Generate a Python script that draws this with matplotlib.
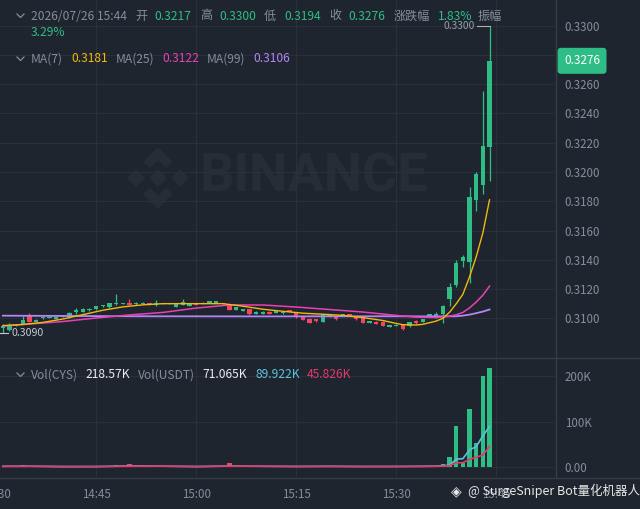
import matplotlib
matplotlib.use('Agg')
import matplotlib.pyplot as plt
import matplotlib.transforms as mtransforms
from matplotlib.lines import Line2D
from matplotlib.patches import Polygon
import numpy as np

plt.rcParams['font.family'] = ['Noto Sans CJK SC', 'DejaVu Sans']

# candles, one per minute, x = minutes after 14:30 (14:31 ... 15:44)
minutes = list(range(1, 75))
opens = [0.30935, 0.30922, 0.30950, 0.30961, 0.31025, 0.30975, 0.31002, 0.31005, 0.30996, 0.31012,
         0.31008, 0.31040, 0.31043, 0.31054, 0.31062, 0.31084, 0.31074, 0.31096, 0.31098, 0.31105,
         0.31096, 0.31098, 0.31105, 0.31089, 0.31100, 0.31100, 0.31080, 0.31091, 0.31084, 0.31103,
         0.31100, 0.31107, 0.31108, 0.31104, 0.31091, 0.31057, 0.31050, 0.31064, 0.31031, 0.31031,
         0.31045, 0.31038, 0.31034, 0.31057, 0.31043, 0.31016, 0.30995, 0.30995, 0.30978, 0.31011,
         0.31009, 0.31016, 0.31027, 0.31009, 0.31005, 0.30968, 0.30977, 0.30977, 0.30943, 0.30950,
         0.30959, 0.30947, 0.30984, 0.30977, 0.31009, 0.31013, 0.31029, 0.31132, 0.31228, 0.31392,
         0.31387, 0.31809, 0.31911, 0.32170]
highs = [0.30960, 0.30968, 0.30960, 0.31016, 0.31036, 0.30993, 0.31012, 0.31015, 0.31012, 0.31020,
         0.31040, 0.31068, 0.31068, 0.31070, 0.31086, 0.31092, 0.31108, 0.31164, 0.31108, 0.31130,
         0.31110, 0.31109, 0.31108, 0.31125, 0.31108, 0.31107, 0.31099, 0.31132, 0.31098, 0.31106,
         0.31112, 0.31120, 0.31119, 0.31107, 0.31094, 0.31078, 0.31066, 0.31066, 0.31047, 0.31047,
         0.31048, 0.31052, 0.31047, 0.31059, 0.31045, 0.31018, 0.31005, 0.30998, 0.31029, 0.31030,
         0.31014, 0.31029, 0.31030, 0.31011, 0.31007, 0.30981, 0.30979, 0.30979, 0.30956, 0.30958,
         0.30962, 0.30975, 0.30986, 0.30995, 0.31029, 0.31041, 0.31093, 0.31243, 0.31399, 0.31433,
         0.31895, 0.32002, 0.32556, 0.33000]
lows = [0.30900, 0.30915, 0.30945, 0.30958, 0.30975, 0.30972, 0.30998, 0.31002, 0.30993, 0.31008,
        0.31005, 0.31029, 0.31040, 0.31050, 0.31060, 0.31080, 0.31072, 0.31094, 0.31095, 0.31088,
        0.31094, 0.31096, 0.31090, 0.31086, 0.31098, 0.31097, 0.31078, 0.31089, 0.31082, 0.31088,
        0.31098, 0.31105, 0.31106, 0.31096, 0.31054, 0.31055, 0.31048, 0.31026, 0.31029, 0.31029,
        0.31027, 0.31036, 0.31032, 0.31041, 0.31005, 0.30986, 0.30968, 0.30978, 0.30976, 0.31009,
        0.30990, 0.31014, 0.31014, 0.30991, 0.30968, 0.30966, 0.30959, 0.30945, 0.30941, 0.30948,
        0.30920, 0.30943, 0.30964, 0.30975, 0.31007, 0.31005, 0.30966, 0.31086, 0.31212, 0.31353,
        0.31243, 0.31736, 0.31848, 0.31940]
closes = [0.30950, 0.30952, 0.30956, 0.30991, 0.30978, 0.30990, 0.31009, 0.31012, 0.31010, 0.31016,
          0.31037, 0.31057, 0.31064, 0.31066, 0.31084, 0.31088, 0.31105, 0.31106, 0.31104, 0.31091,
          0.31107, 0.31106, 0.31093, 0.31105, 0.31106, 0.31104, 0.31096, 0.31109, 0.31096, 0.31091,
          0.31107, 0.31118, 0.31117, 0.31098, 0.31057, 0.31075, 0.31064, 0.31029, 0.31045, 0.31045,
          0.31029, 0.31050, 0.31045, 0.31043, 0.31016, 0.30988, 0.30970, 0.30980, 0.31027, 0.31027,
          0.30995, 0.31027, 0.31016, 0.30993, 0.30970, 0.30979, 0.30961, 0.30947, 0.30954, 0.30953,
          0.30927, 0.30973, 0.30966, 0.30993, 0.31027, 0.31029, 0.31086, 0.31216, 0.31376, 0.31421,
          0.31827, 0.31986, 0.32178, 0.32760]
# volume in thousands of CYS
volumes_k = [1.5, 2.0, 1.2, 4.5, 3.0, 1.5, 1.0, 0.8, 1.2, 0.8,
             1.8, 2.2, 1.5, 1.0, 2.0, 0.8, 2.5, 4.5, 1.2, 6.5,
             1.5, 1.0, 1.2, 2.0, 0.8, 0.8, 1.5, 2.5, 1.0, 1.5,
             1.0, 1.8, 1.2, 1.0, 8.5, 2.5, 1.5, 3.0, 1.2, 1.0,
             1.5, 1.0, 1.2, 1.5, 2.5, 2.0, 2.2, 1.2, 3.0, 1.5,
             1.2, 1.0, 1.2, 1.5, 2.5, 1.2, 1.5, 2.5, 1.2, 0.5,
             3.0, 2.5, 1.5, 2.0, 3.5, 3.0, 6.6, 22.0, 91.0, 8.8,
             128.7, 54.3, 201.5, 218.57]

# moving average lines
ma7_t = [1, 4, 7, 10, 13, 16, 19, 22, 25, 28, 31, 34, 37, 40, 43, 46, 49, 52, 55, 58,
         60, 61, 62, 63, 64, 65, 66, 67, 68, 69, 70, 71, 72, 73, 74]
ma7 = [0.30950, 0.30958, 0.30972, 0.30995, 0.31025, 0.31055, 0.31078, 0.31092, 0.31100, 0.31100,
       0.31100, 0.31100, 0.31083, 0.31062, 0.31048, 0.31035, 0.31028, 0.31020, 0.31005, 0.30985,
       0.30965, 0.30956, 0.30956, 0.30954, 0.30959, 0.30970, 0.30981, 0.31000, 0.31041, 0.31099,
       0.31164, 0.31283, 0.31420, 0.31584, 0.31810]
ma25_t = [1, 5, 10, 15, 20, 25, 30, 35, 40, 45, 50, 55, 60, 63, 66, 68, 69, 70, 71, 72, 73, 74]
ma25 = [0.30947, 0.30961, 0.30978, 0.31002, 0.31023, 0.31040, 0.31070, 0.31091, 0.31091, 0.31077,
        0.31060, 0.31043, 0.31020, 0.31008, 0.31005, 0.31015, 0.31024, 0.31040, 0.31071, 0.31111,
        0.31158, 0.31220]
ma99_t = [1, 20, 40, 60, 66, 69, 70, 71, 72, 73, 74]
ma99 = [0.31018, 0.31014, 0.31013, 0.31014, 0.31013, 0.31014, 0.31018, 0.31025, 0.31035, 0.31046, 0.31060]

vma_t = [1, 5, 10, 15, 20, 25, 30, 35, 40, 45, 50, 55, 60, 64, 66, 67, 68, 69, 70, 71, 72, 73, 74]
vma5 = [2.2, 2.4, 1.4, 1.6, 3.0, 2.5, 1.5, 2.8, 2.2, 1.8, 2.2, 1.7, 1.8, 2.2, 2.6, 3.5, 4.5,
        17.7, 19.0, 38.0, 45.5, 69.0, 89.922]
vma10 = [2.2, 2.3, 1.9, 1.6, 2.4, 2.5, 2.0, 2.5, 2.5, 2.0, 2.0, 1.8, 1.8, 2.0, 2.2, 2.6, 3.4,
         10.0, 10.1, 17.6, 22.0, 27.0, 45.826]

time_ticks = [0, 15, 30, 45, 60, 75]
time_labels = ['14:30', '14:45', '15:00', '15:15', '15:30', '15:45']
price_ticks = [0.3100, 0.3120, 0.3140, 0.3160, 0.3180, 0.3200, 0.3220, 0.3240, 0.3260, 0.3280, 0.3300]
# 0.3280 sits under the last-price tag, so its label stays empty
price_tick_labels = ['0.3100', '0.3120', '0.3140', '0.3160', '0.3180', '0.3200', '0.3220',
                     '0.3240', '0.3260', '', '0.3300']
vol_ticks = [0, 100, 200]
vol_tick_labels = ['0.00', '100K', '200K']

BG = '#1f252e'
GRID = '#2a303a'
SEP = '#363c47'
TXT = '#848e9c'
UP = '#2ebd85'
DOWN = '#f6465d'
C7 = '#f0b90b'
C25 = '#eb40b5'
C99 = '#b385f8'
CV5 = '#5bc2de'
CV10 = '#e3386c'
WM = '#272d37'


def fx(x):
    return x / 640


def fy(y):
    return 1 - y / 509


fig = plt.figure(figsize=(6.4, 5.09), dpi=100, facecolor=BG)
ax_p = fig.add_axes([0, fy(357), fx(555), 357 / 509])
ax_v = fig.add_axes([0, fy(477), fx(555), (477 - 358) / 509])

t = np.array(minutes)
o = np.array(opens)
h = np.array(highs)
l = np.array(lows)
c = np.array(closes)
colors = [UP if cc >= oo else DOWN for oo, cc in zip(o, c)]

for ax in (ax_p, ax_v):
    ax.set_facecolor(BG)
    ax.set_xlim(0.58, 83.82)
    for s in ax.spines.values():
        s.set_visible(False)
    ax.set_xticks(time_ticks[1:])
    ax.set_xticklabels([])
    ax.tick_params(axis='x', length=0)
    ax.grid(True, color=GRID, lw=0.8, zorder=0)
    ax.set_axisbelow(True)
    ax.yaxis.tick_right()
    ax.tick_params(axis='y', length=0, pad=7, labelsize=8.3, labelcolor=TXT)

# watermark
ax_p.text(fx(200), fy(177), 'BINANCE', transform=fig.transFigure, family='Roboto',
          fontweight='bold', fontsize=39, color=WM, va='center', ha='left', zorder=0)
logo = [
    [(0, 0.27), (0.27, 0), (0, -0.27), (-0.27, 0)],
    [(0.73, 0.27), (1.0, 0), (0.73, -0.27), (0.46, 0)],
    [(-0.73, 0.27), (-0.46, 0), (-0.73, -0.27), (-1.0, 0)],
    [(0, 1), (0.46, 0.54), (0.27, 0.35), (0, 0.62), (-0.27, 0.35), (-0.46, 0.54)],
    [(0, -1), (0.46, -0.54), (0.27, -0.35), (0, -0.62), (-0.27, -0.35), (-0.46, -0.54)],
]
for shape in logo:
    pts = [(fx(158 + 30 * px), fy(178 - 30 * py)) for px, py in shape]
    ax_p.add_patch(Polygon(pts, closed=True, transform=fig.transFigure, color=WM, zorder=0))

# candles
ax_p.vlines(t, l, h, colors=colors, lw=0.9, zorder=2)
body = np.maximum(np.abs(c - o), 0.00007)
ax_p.bar(t, body, bottom=np.minimum(o, c), width=0.65, color=colors, zorder=3)

ax_p.plot(ma99_t, ma99, color=C99, lw=1.3, zorder=4)
ax_p.plot(ma25_t, ma25, color=C25, lw=1.1, zorder=4)
ax_p.plot(ma7_t, ma7, color=C7, lw=1.0, zorder=5)

ax_p.set_ylim(0.307355, 0.331757)
ax_p.set_yticks(price_ticks)
ax_p.set_yticklabels(price_tick_labels)

# high / low markers
hi = int(np.argmax(h))
lo = int(np.argmin(l))
ax_p.plot([t[hi], t[hi] - 1.9], [h[hi], h[hi]], color='#aab0b8', lw=0.8, zorder=5)
ax_p.text(t[hi] - 2.2, h[hi], f'{h[hi]:.4f}', color='#9aa0a8', fontsize=7.4,
          ha='right', va='center', zorder=5)
ax_p.plot([t[lo] - 0.4, t[lo] + 0.8], [l[lo], l[lo]], color='#c4c9d0', lw=0.8, zorder=5)
ax_p.text(t[lo] + 1.25, l[lo], f'{l[lo]:.4f}', color='#c4c9d0', fontsize=7.6,
          ha='left', va='center', zorder=5)

# last price tag
yblend = mtransforms.blended_transform_factory(ax_p.transAxes, ax_p.transData)
ax_p.text(564 / 555, c[-1], f'{c[-1]:.4f}', transform=yblend, color='white', fontsize=8.5,
          ha='left', va='center', clip_on=False, zorder=10,
          bbox=dict(boxstyle='round,pad=0.55,rounding_size=0.3', fc=UP, ec='none'))

# volume
ax_v.bar(t, volumes_k, width=0.65, color=colors, zorder=2)
ax_v.plot(vma_t, vma5, color=CV5, lw=1.2, zorder=3)
ax_v.plot(vma_t, vma10, color=CV10, lw=1.2, zorder=3)
ax_v.set_ylim(-21.3, 240.2)
ax_v.set_yticks(vol_ticks)
ax_v.set_yticklabels(vol_tick_labels)

xblend = mtransforms.blended_transform_factory(ax_v.transData, ax_v.transAxes)
for tt, lab in zip(time_ticks, time_labels):
    ax_v.text(tt, -(494 - 477) / 119, lab, transform=xblend, color=TXT, fontsize=8.3,
              ha='center', va='center', clip_on=False)

# pane separators
for xs, ys in [([0, 1], [fy(357.5), fy(357.5)]), ([0, 1], [fy(477.5), fy(477.5)]),
               ([fx(555.5), fx(555.5)], [fy(0), fy(477.5)])]:
    fig.add_artist(Line2D(xs, ys, transform=fig.transFigure, color=SEP, lw=1.0))

# legend rows
def chevron(y):
    fig.add_artist(Line2D([fx(17), fx(20.5), fx(24)], [fy(y - 2), fy(y + 1.5), fy(y - 2)],
                          transform=fig.transFigure, color=TXT, lw=0.9))


def row(y, parts):
    for x, s, col in parts:
        fig.text(fx(x), fy(y), s, color=col, fontsize=8.7, ha='left', va='center')


chevron(16)
row(16, [(31, '2026/07/26 15:44', TXT), (135, '开', TXT), (154, '0.3217', UP),
         (200, '高', TXT), (219, '0.3300', UP), (264, '低', TXT), (284, '0.3194', UP),
         (329, '收', TXT), (348, '0.3276', UP), (394, '涨跌幅', TXT), (438, '1.83%', UP),
         (478, '振幅', TXT)])
row(33, [(31, '3.29%', UP)])
chevron(59)
row(59, [(31, 'MA(7)', TXT), (71.5, '0.3181', C7), (116, 'MA(25)', TXT), (162.5, '0.3122', C25),
         (207, 'MA(99)', TXT), (253, '0.3106', C99)])
chevron(375)
row(375, [(31, 'Vol(CYS)', TXT), (85, '218.57K', '#eaecef'), (138, 'Vol(USDT)', TXT),
          (202, '71.065K', '#eaecef'), (255, '89.922K', CV5), (307, '45.826K', CV10)])

# bottom right watermark
fig.text(fx(451), fy(491), '◈', color='#e8e8e8', fontsize=10, ha='left', va='center')
fig.text(fx(468.5), fy(491), '@ SurgeSniper Bot量化机器人', color='#e8e8e8', fontsize=9,
         ha='left', va='center')

fig.savefig('out.png', dpi=100, facecolor=BG)
